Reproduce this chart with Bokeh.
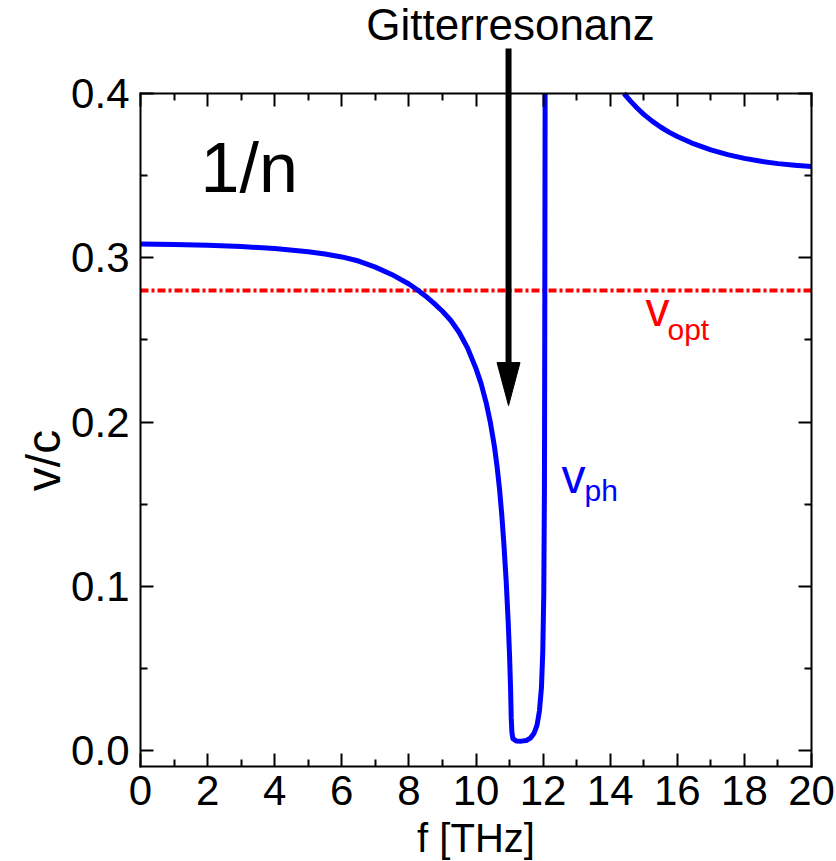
import math
from bokeh.plotting import figure
from bokeh.models import (Range1d, Label, Arrow, LinearAxis, FixedTicker,
                          PrintfTickFormatter)
from bokeh.embed import file_html
from bokeh.resources import INLINE

# ---- data ----
f_low = [0.0, 1.0, 2.0, 3.0, 4.0, 5.0, 5.5, 6.0, 6.5, 7.0, 7.5, 8.0, 8.25, 8.5, 8.75,
         9.0, 9.25, 9.5, 9.75, 10.0, 10.15, 10.3, 10.43, 10.55, 10.63, 10.7, 10.77,
         10.83, 10.9, 10.96, 11.0, 11.03, 11.05, 11.07, 11.1, 11.2, 11.35, 11.5, 11.62,
         11.73, 11.82, 11.89, 11.95, 11.99, 12.02, 12.04, 12.05, 12.06]
v_low = [0.3083, 0.3081, 0.3076, 0.3068, 0.3056, 0.3037, 0.3023, 0.3005, 0.2980, 0.2943,
         0.2897, 0.2840, 0.2805, 0.2766, 0.2722, 0.2674, 0.2618, 0.2545, 0.2450, 0.2325,
         0.2235, 0.2120, 0.1995, 0.1850, 0.1725, 0.1595, 0.1430, 0.1260, 0.1030, 0.0780,
         0.0580, 0.0380, 0.0200, 0.0110, 0.0072, 0.0058, 0.0057, 0.0061, 0.0075, 0.0105,
         0.0155, 0.0240, 0.0380, 0.0600, 0.0950, 0.1600, 0.2600, 0.4000]
f_high = [14.41, 14.6, 14.8, 15.0, 15.25, 15.5, 15.75, 16.0, 16.5, 17.0, 17.5, 18.0,
          18.5, 19.0, 19.5, 20.0]
v_high = [0.4000, 0.3955, 0.3912, 0.3873, 0.3832, 0.3796, 0.3765, 0.3738, 0.3693, 0.3657,
          0.3628, 0.3605, 0.3587, 0.3573, 0.3563, 0.3555]
f_opt = [0.0, 20.0]
v_opt = [0.28, 0.28]

x_ticks = [0, 2, 4, 6, 8, 10, 12, 14, 16, 18, 20]
x_minor = [1, 3, 5, 7, 9, 11, 13, 15, 17, 19]
y_ticks = [0.0, 0.1, 0.2, 0.3, 0.4]
y_minor = [0.05, 0.15, 0.25, 0.35]

X_MIN, X_MAX = 0.0, 20.0
Y_MIN, Y_MAX = -0.00974, 0.4

arrow_x = 10.97
arrow_top = 0.4274
arrow_tip = 0.2100

FONT = "Liberation Sans"

# ---- screen geometry of the plot box (pixels) ----
W, H = 836, 861
BOX_L, BOX_R = 140, 811
PX_PER_X = (BOX_R - BOX_L) / (X_MAX - X_MIN)
Y0_PX, Y04_PX = 750.0, 93.0
PX_PER_Y = (Y0_PX - Y04_PX) / 0.4


def dx(px):
    return X_MIN + (px - BOX_L) / PX_PER_X


def dy(py):
    return (Y0_PX - py) / PX_PER_Y


p = figure(width=W, height=H, output_backend="svg", toolbar_location=None, title=None,
           x_range=Range1d(dx(0), dx(W)), y_range=Range1d(dy(H), dy(0)),
           min_border=0, x_axis_location=None, y_axis_location=None)
p.grid.visible = False
p.outline_line_color = None
p.background_fill_color = "white"
p.border_fill_color = "white"


def make_axis(side, labels, loc):
    horiz = side in ("below", "above")
    ax = LinearAxis(fixed_location=loc)
    ax.ticker = FixedTicker(ticks=x_ticks if horiz else y_ticks,
                            minor_ticks=x_minor if horiz else y_minor)
    ax.bounds = (X_MIN, X_MAX) if horiz else (Y_MIN, Y_MAX)
    ax.axis_line_width = 2
    ax.axis_line_cap = "square"
    ax.major_tick_line_width = 2
    ax.minor_tick_line_width = 2
    ax.major_tick_in = 13
    ax.major_tick_out = 0
    ax.minor_tick_in = 7
    ax.minor_tick_out = 0
    ax.major_label_text_font = FONT
    ax.major_label_text_font_size = "42px"
    ax.major_label_text_color = "black"
    ax.major_label_standoff = 10 if horiz else 11
    if not horiz:
        ax.formatter = PrintfTickFormatter(format="%.1f")
    if not labels:
        ax.major_label_text_alpha = 0
    p.add_layout(ax, side)
    return ax


make_axis("below", True, Y_MIN)
make_axis("left", True, X_MIN)
make_axis("above", False, Y_MAX)
make_axis("right", False, X_MAX)

# curves
p.line(f_opt, v_opt, line_color="#ff0000", line_width=4, line_dash="8 3 3 3")
p.line(f_low, v_low, line_color="#0000ff", line_width=5, line_join="round")
p.line(f_high, v_high, line_color="#0000ff", line_width=5, line_join="round")

# arrow (shaft + head)
head_len_px = 43
head_half_w_px = 11.5
head_base = arrow_tip + head_len_px / PX_PER_Y
p.add_layout(Arrow(end=None, x_start=arrow_x, y_start=arrow_top, x_end=arrow_x,
                   y_end=head_base, line_width=6, line_color="black"))
p.patch([arrow_x - head_half_w_px / PX_PER_X, arrow_x + head_half_w_px / PX_PER_X, arrow_x],
        [head_base, head_base, arrow_tip], fill_color="black", line_color="black")

# texts (baseline positions given in pixels of the picture, with a small
# correction for where the renderer puts the alphabetic baseline)
BASE_CORR = 0.40


def lab(x_px, base_px, text, size, color="black", align="left", rotated=False):
    if rotated:
        x = dx(x_px - BASE_CORR * size)
        y = dy(base_px)
        ang = math.pi / 2
    else:
        x = dx(x_px)
        y = dy(base_px - BASE_CORR * size)
        ang = 0.0
    p.add_layout(Label(x=x, y=y, text=text, text_font=FONT, text_font_size=f"{size}px",
                       text_color=color, text_align=align, text_baseline="alphabetic",
                       angle=ang))


lab(510, 41.7, "Gitterresonanz", 44, align="center")
lab(200, 195, "1/n", 70)
lab(645, 328, "v", 48, color="#ff0000")
lab(667, 340.7, "opt", 30, color="#ff0000")
lab(561, 495, "v", 48, color="#0000ff")
lab(584, 501.7, "ph", 30, color="#0000ff")
lab(475.5, 853, "f [THz]", 40, align="center")
lab(62, 460, "v/c", 48, align="center", rotated=True)

open("out.html", "w").write(file_html(p, INLINE))
